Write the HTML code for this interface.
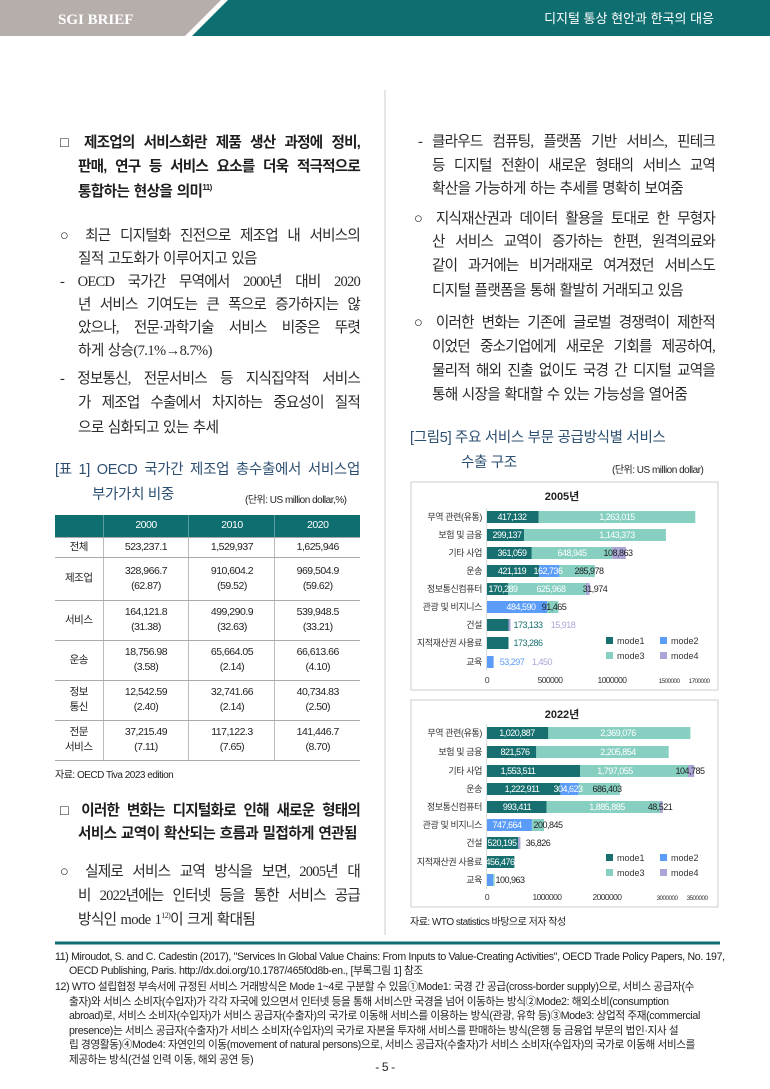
<!DOCTYPE html>
<html><head><meta charset="utf-8">
<style>
*{margin:0;padding:0;box-sizing:border-box}
body{width:770px;height:1089px;position:relative;background:#fff;overflow:hidden;font-family:"Liberation Sans","Noto Sans CJK KR",sans-serif;color:#222}
.l{position:absolute;white-space:nowrap;font-size:14.6px;line-height:20px;letter-spacing:-0.6px;word-spacing:1px;font-family:"Liberation Serif","Noto Sans CJK KR",sans-serif;color:#2a2a2a}
.l.j{letter-spacing:-0.8px;word-spacing:-1px}
.b{font-family:"Liberation Sans","Noto Sans CJK KR",sans-serif;font-weight:bold;color:#1e1e1e;font-size:14.6px}
.j{text-align:justify;text-align-last:justify}
.t{position:absolute;white-space:nowrap;font-family:"Liberation Sans","Noto Sans CJK KR",sans-serif;color:#2d4f72;font-size:14.5px;line-height:20px;letter-spacing:-0.3px}
.s{position:absolute;white-space:nowrap;font-family:"Liberation Sans","Noto Sans CJK KR",sans-serif;font-size:10px;letter-spacing:-0.5px;color:#222}
sup{font-size:8px;vertical-align:6px;line-height:0}
table{position:absolute;left:55px;top:515px;width:305px;border-collapse:collapse;font-family:"Liberation Sans","Noto Sans CJK KR",sans-serif;font-size:10.5px;letter-spacing:-0.5px;color:#222}
td,th{text-align:center;border-bottom:1px solid #aaa;border-left:1px solid #bbb;line-height:15px}
td:first-child,th:first-child{border-left:none}
th{background:#0f6e70;color:#fff;font-weight:normal;height:22px;border-left:1px solid #5a9c9d}
.fn{position:absolute;left:55px;font-size:10.6px;letter-spacing:-0.35px;line-height:14.5px;white-space:nowrap;font-family:"Liberation Sans","Noto Sans CJK KR",sans-serif;color:#222}
</style></head><body>

<svg width="770" height="1089" style="position:absolute;left:0;top:0" xmlns="http://www.w3.org/2000/svg">
<polygon points="0,0 221,0 185,36 0,36" fill="#b5aeab"/>
<polygon points="228,0 770,0 770,36 192,36" fill="#0f6e70"/>
<text x="58" y="24" font-family="Liberation Serif" font-weight="bold" font-size="15" fill="#fff">SGI BRIEF</text>
<text x="714" y="23" text-anchor="end" font-family="Liberation Sans,Noto Sans CJK KR,sans-serif" font-size="13" fill="#fff">디지털 통상 현안과 한국의 대응</text>
<line x1="385" y1="90" x2="385" y2="935" stroke="#ccc" stroke-width="1"/>
<line x1="55" y1="943" x2="720" y2="943" stroke="#0f6e70" stroke-width="3"/>

<g font-family="Liberation Sans,Noto Sans CJK KR,sans-serif">
<rect x="411" y="482" width="307" height="208" fill="#fff" stroke="#ccc"/>
<text x="562" y="500" text-anchor="middle" font-size="11" font-weight="bold" fill="#222">2005년</text>
<g font-size="9" fill="#333" text-anchor="end" letter-spacing="-0.4">
<text x="482" y="520">무역 관련(유통)</text><text x="482" y="538">보험 및 금융</text><text x="482" y="556">기타 사업</text><text x="482" y="574">운송</text><text x="482" y="592">정보통신컴퓨터</text><text x="482" y="610">관광 및 비지니스</text><text x="482" y="628">건설</text><text x="482" y="646">지적재산권 사용료</text><text x="482" y="665">교육</text>
</g>
<line x1="486.5" y1="508" x2="486.5" y2="671" stroke="#ddd"/>
<g>
<rect x="487" y="511" width="51.7" height="12" fill="#17706f"/><rect x="538.7" y="511" width="156.6" height="12" fill="#86cfc1"/>
<rect x="487" y="529" width="37.1" height="12" fill="#17706f"/><rect x="524.1" y="529" width="141.8" height="12" fill="#86cfc1"/>
<rect x="487" y="547" width="44.8" height="12" fill="#17706f"/><rect x="531.8" y="547" width="80.5" height="12" fill="#86cfc1"/><rect x="612.3" y="547" width="13.5" height="12" fill="#a8a6d6"/>
<rect x="487" y="565" width="52.2" height="12" fill="#17706f"/><rect x="539.2" y="565" width="20.2" height="12" fill="#5b9cf8"/><rect x="559.4" y="565" width="35.5" height="12" fill="#86cfc1"/>
<rect x="487" y="583" width="21.1" height="12" fill="#17706f"/><rect x="508.1" y="583" width="77.6" height="12" fill="#86cfc1"/><rect x="585.7" y="583" width="4" height="12" fill="#a8a6d6"/>
<rect x="487" y="601" width="60.1" height="12" fill="#5b9cf8"/><rect x="547.1" y="601" width="11.3" height="12" fill="#86cfc1"/>
<rect x="487" y="619" width="21.5" height="12" fill="#17706f"/><rect x="508.5" y="619" width="2" height="12" fill="#a8a6d6"/>
<rect x="487" y="637" width="21.5" height="12" fill="#17706f"/>
<rect x="487" y="656" width="6.6" height="12" fill="#5b9cf8"/>
</g>
<g font-size="9" text-anchor="middle" letter-spacing="-0.5">
<text x="512" y="520" fill="#fff">417,132</text><text x="617" y="520" fill="#fff">1,263,015</text>
<text x="507" y="538" fill="#fff">299,137</text><text x="617" y="538" fill="#fff">1,143,373</text>
<text x="512" y="556" fill="#fff">361,059</text><text x="572" y="556" fill="#fff">648,945</text><text x="618" y="556" fill="#222">108,863</text>
<text x="512" y="574" fill="#fff">421,119</text><text x="548" y="574" fill="#fff">162,736</text><text x="589" y="574" fill="#222">285,978</text>
<text x="503" y="592" fill="#fff">170,289</text><text x="551" y="592" fill="#fff">625,968</text><text x="595" y="592" fill="#222">31,974</text>
<text x="521" y="610" fill="#fff">484,590</text><text x="554" y="610" fill="#222">91,465</text>
<text x="528" y="628" fill="#17706f">173,133</text><text x="563" y="628" fill="#a8a6d6">15,918</text>
<text x="528" y="646" fill="#17706f">173,286</text>
<text x="512" y="665" fill="#5b9cf8">53,297</text><text x="542" y="665" fill="#a8a6d6">1,450</text>
</g>
<g font-size="9" fill="#333">
<rect x="606" y="637" width="7" height="7" fill="#17706f"/><text x="617" y="644">mode1</text>
<rect x="660" y="637" width="7" height="7" fill="#5b9cf8"/><text x="671" y="644">mode2</text>
<rect x="606" y="652" width="7" height="7" fill="#86cfc1"/><text x="617" y="659">mode3</text>
<rect x="660" y="652" width="7" height="7" fill="#a8a6d6"/><text x="671" y="659">mode4</text>
</g>
<g font-size="8.5" fill="#333" text-anchor="middle" letter-spacing="-0.6">
<text x="487" y="683">0</text><text x="550" y="683">500000</text><text x="612" y="683">1000000</text>
<text x="669" y="683" font-size="6.5">1500000</text><text x="699" y="683" font-size="6.5">1700000</text>
</g>

<rect x="411" y="700" width="307" height="207" fill="#fff" stroke="#ccc"/>
<text x="562" y="718" text-anchor="middle" font-size="11" font-weight="bold" fill="#222">2022년</text>
<g font-size="9" fill="#333" text-anchor="end" letter-spacing="-0.4">
<text x="482" y="736">무역 관련(유통)</text><text x="482" y="755">보험 및 금융</text><text x="482" y="774">기타 사업</text><text x="482" y="792">운송</text><text x="482" y="810">정보통신컴퓨터</text><text x="482" y="828">관광 및 비지니스</text><text x="482" y="846">건설</text><text x="482" y="865">지적재산권 사용료</text><text x="482" y="883">교육</text>
</g>
<line x1="486.5" y1="724" x2="486.5" y2="889" stroke="#ddd"/>
<g>
<rect x="487" y="727" width="61.3" height="12" fill="#17706f"/><rect x="548.3" y="727" width="142.1" height="12" fill="#86cfc1"/>
<rect x="487" y="746" width="49.3" height="12" fill="#17706f"/><rect x="536.3" y="746" width="132.4" height="12" fill="#86cfc1"/>
<rect x="487" y="765" width="93.2" height="12" fill="#17706f"/><rect x="580.2" y="765" width="107.8" height="12" fill="#86cfc1"/><rect x="688" y="765" width="6.3" height="12" fill="#a8a6d6"/>
<rect x="487" y="783" width="73.4" height="12" fill="#17706f"/><rect x="560.4" y="783" width="18.3" height="12" fill="#5b9cf8"/><rect x="578.7" y="783" width="41.2" height="12" fill="#86cfc1"/>
<rect x="487" y="801" width="59.6" height="12" fill="#17706f"/><rect x="546.6" y="801" width="113.2" height="12" fill="#86cfc1"/><rect x="659.8" y="801" width="2.9" height="12" fill="#a8a6d6"/>
<rect x="487" y="819" width="44.9" height="12" fill="#5b9cf8"/><rect x="531.9" y="819" width="12.1" height="12" fill="#86cfc1"/>
<rect x="487" y="837" width="31.2" height="12" fill="#17706f"/><rect x="518.2" y="837" width="2.2" height="12" fill="#a8a6d6"/>
<rect x="487" y="856" width="27.4" height="12" fill="#17706f"/>
<rect x="487" y="874" width="6.1" height="12" fill="#5b9cf8"/><rect x="493.1" y="874" width="1.5" height="12" fill="#86cfc1"/>
</g>
<g font-size="9" text-anchor="middle" letter-spacing="-0.5">
<text x="517" y="736" fill="#fff">1,020,887</text><text x="618" y="736" fill="#fff">2,369,076</text>
<text x="515" y="755" fill="#fff">821,576</text><text x="618" y="755" fill="#fff">2,205,854</text>
<text x="518" y="774" fill="#fff">1,553,511</text><text x="615" y="774" fill="#fff">1,797,055</text><text x="690" y="774" fill="#222">104,785</text>
<text x="522" y="792" fill="#fff">1,222,911</text><text x="568" y="792" fill="#fff">304,623</text><text x="607" y="792" fill="#222">686,403</text>
<text x="517" y="810" fill="#fff">993,411</text><text x="607" y="810" fill="#fff">1,885,885</text><text x="660" y="810" fill="#222">48,521</text>
<text x="507" y="828" fill="#fff">747,664</text><text x="548" y="828" fill="#222">200,845</text>
<text x="502" y="846" fill="#fff">520,195</text><text x="538" y="846" fill="#222">36,826</text>
<text x="500" y="865" fill="#fff">456,476</text>
<text x="510" y="883" fill="#222">100,963</text>
</g>
<g font-size="9" fill="#333">
<rect x="606" y="854" width="7" height="7" fill="#17706f"/><text x="617" y="861">mode1</text>
<rect x="660" y="854" width="7" height="7" fill="#5b9cf8"/><text x="671" y="861">mode2</text>
<rect x="606" y="869" width="7" height="7" fill="#86cfc1"/><text x="617" y="876">mode3</text>
<rect x="660" y="869" width="7" height="7" fill="#a8a6d6"/><text x="671" y="876">mode4</text>
</g>
<g font-size="8.5" fill="#333" text-anchor="middle" letter-spacing="-0.6">
<text x="487" y="900">0</text><text x="547" y="900">1000000</text><text x="607" y="900">2000000</text>
<text x="667" y="900" font-size="6.5">3000000</text><text x="697" y="900" font-size="6.5">3500000</text>
</g>
</g>
</svg>

<!-- left column -->
<div class="l b j" style="top:133px;left:60px;width:300px">□ 제조업의 서비스화란 제품 생산 과정에 정비,</div>
<div class="l b j" style="top:157px;left:78px;width:282px">판매, 연구 등 서비스 요소를 더욱 적극적으로</div>
<div class="l b" style="top:182px;left:78px">통합하는 현상을 의미<sup>11)</sup></div>

<div class="l j" style="top:226px;left:60px;width:300px">○ 최근 디지털화 진전으로 제조업 내 서비스의</div>
<div class="l" style="top:249px;left:78px">질적 고도화가 이루어지고 있음</div>

<div class="l j" style="top:272px;left:60px;width:300px">- OECD 국가간 무역에서 2000년 대비 2020</div>
<div class="l j" style="top:295px;left:78px;width:282px">년 서비스 기여도는 큰 폭으로 증가하지는 않</div>
<div class="l j" style="top:318px;left:78px;width:282px">았으나, 전문·과학기술 서비스 비중은 뚜렷</div>
<div class="l" style="top:341px;left:78px">하게 상승(7.1%→8.7%)</div>

<div class="l j" style="top:369px;left:60px;width:300px">- 정보통신, 전문서비스 등 지식집약적 서비스</div>
<div class="l j" style="top:393px;left:78px;width:282px">가 제조업 수출에서 차지하는 중요성이 질적</div>
<div class="l" style="top:418px;left:78px">으로 심화되고 있는 추세</div>

<div class="t j" style="top:460px;left:55px;width:305px">[표 1] OECD 국가간 제조업 총수출에서 서비스업</div>
<div class="t" style="top:485px;left:92px">부가가치 비중</div>
<div class="s" style="top:491px;left:245px">(단위: US million dollar,%)</div>

<table>
<tr><th style="width:48px"></th><th>2000</th><th>2010</th><th>2020</th></tr>
<tr style="height:20px"><td>전체</td><td>523,237.1</td><td>1,529,937</td><td>1,625,946</td></tr>
<tr style="height:43px"><td>제조업</td><td>328,966.7<br>(62.87)</td><td>910,604.2<br>(59.52)</td><td>969,504.9<br>(59.62)</td></tr>
<tr style="height:40px"><td>서비스</td><td>164,121.8<br>(31.38)</td><td>499,290.9<br>(32.63)</td><td>539,948.5<br>(33.21)</td></tr>
<tr style="height:40px"><td>운송</td><td>18,756.98<br>(3.58)</td><td>65,664.05<br>(2.14)</td><td>66,613.66<br>(4.10)</td></tr>
<tr style="height:40px"><td>정보<br>통신</td><td>12,542.59<br>(2.40)</td><td>32,741.66<br>(2.14)</td><td>40,734.83<br>(2.50)</td></tr>
<tr style="height:40px"><td>전문<br>서비스</td><td>37,215.49<br>(7.11)</td><td>117,122.3<br>(7.65)</td><td>141,446.7<br>(8.70)</td></tr>
</table>
<div class="s" style="top:766px;left:55px">자료: OECD Tiva 2023 edition</div>

<div class="l b j" style="top:801px;left:60px;width:300px">□ 이러한 변화는 디지털화로 인해 새로운 형태의</div>
<div class="l b" style="top:824px;left:78px">서비스 교역이 확산되는 흐름과 밀접하게 연관됨</div>

<div class="l j" style="top:862px;left:60px;width:300px">○ 실제로 서비스 교역 방식을 보면, 2005년 대</div>
<div class="l j" style="top:886px;left:78px;width:282px">비 2022년에는 인터넷 등을 통한 서비스 공급</div>
<div class="l" style="top:910px;left:78px">방식인 mode 1<sup>12)</sup>이 크게 확대됨</div>

<!-- right column -->
<div class="l j" style="top:132px;left:418px;width:297px">- 클라우드 컴퓨팅, 플랫폼 기반 서비스, 핀테크</div>
<div class="l j" style="top:156px;left:432px;width:283px">등 디지털 전환이 새로운 형태의 서비스 교역</div>
<div class="l" style="top:179px;left:432px">확산을 가능하게 하는 추세를 명확히 보여줌</div>

<div class="l j" style="top:209px;left:414px;width:301px">○ 지식재산권과 데이터 활용을 토대로 한 무형자</div>
<div class="l j" style="top:232px;left:432px;width:283px">산 서비스 교역이 증가하는 한편, 원격의료와</div>
<div class="l j" style="top:256px;left:432px;width:283px">같이 과거에는 비거래재로 여겨졌던 서비스도</div>
<div class="l" style="top:281px;left:432px">디지털 플랫폼을 통해 활발히 거래되고 있음</div>

<div class="l j" style="top:313px;left:414px;width:301px">○ 이러한 변화는 기존에 글로벌 경쟁력이 제한적</div>
<div class="l j" style="top:337px;left:432px;width:283px">이었던 중소기업에게 새로운 기회를 제공하여,</div>
<div class="l j" style="top:361px;left:432px;width:283px">물리적 해외 진출 없이도 국경 간 디지털 교역을</div>
<div class="l" style="top:385px;left:432px">통해 시장을 확대할 수 있는 가능성을 열어줌</div>

<div class="t" style="top:428px;left:410px">[그림5] 주요 서비스 부문 공급방식별 서비스</div>
<div class="t" style="top:453px;left:461px">수출 구조</div>
<div class="s" style="top:461px;left:612px">(단위: US million dollar)</div>
<div class="s" style="top:913px;left:410px">자료: WTO statistics 바탕으로 저자 작성</div>

<!-- footnotes -->
<div class="fn" style="top:950px">11) Miroudot, S. and C. Cadestin (2017), "Services In Global Value Chains: From Inputs to Value-Creating Activities", OECD Trade Policy Papers, No. 197,</div>
<div class="fn" style="top:964px;left:69px">OECD Publishing, Paris. http://dx.doi.org/10.1787/465f0d8b-en., [부록그림 1] 참조</div>
<div class="fn" style="top:980px">12) WTO 설립협정 부속서에 규정된 서비스 거래방식은 Mode 1~4로 구분할 수 있음①Mode1: 국경 간 공급(cross-border supply)으로, 서비스 공급자(수</div>
<div class="fn" style="top:994.5px;left:69px">출자)와 서비스 소비자(수입자)가 각각 자국에 있으면서 인터넷 등을 통해 서비스만 국경을 넘어 이동하는 방식②Mode2: 해외소비(consumption</div>
<div class="fn" style="top:1009px;left:69px">abroad)로, 서비스 소비자(수입자)가 서비스 공급자(수출자)의 국가로 이동해 서비스를 이용하는 방식(관광, 유학 등)③Mode3: 상업적 주재(commercial</div>
<div class="fn" style="top:1023.5px;left:69px">presence)는 서비스 공급자(수출자)가 서비스 소비자(수입자)의 국가로 자본을 투자해 서비스를 판매하는 방식(은행 등 금융업 부문의 법인·지사 설</div>
<div class="fn" style="top:1038px;left:69px">립 경영활동)④Mode4: 자연인의 이동(movement of natural persons)으로, 서비스 공급자(수출자)가 서비스 소비자(수입자)의 국가로 이동해 서비스를</div>
<div class="fn" style="top:1052.5px;left:69px">제공하는 방식(건설 인력 이동, 해외 공연 등)</div>
<div class="fn" style="top:1060px;left:0;width:770px;text-align:center;font-size:12px">- 5 -</div>
</body></html>
